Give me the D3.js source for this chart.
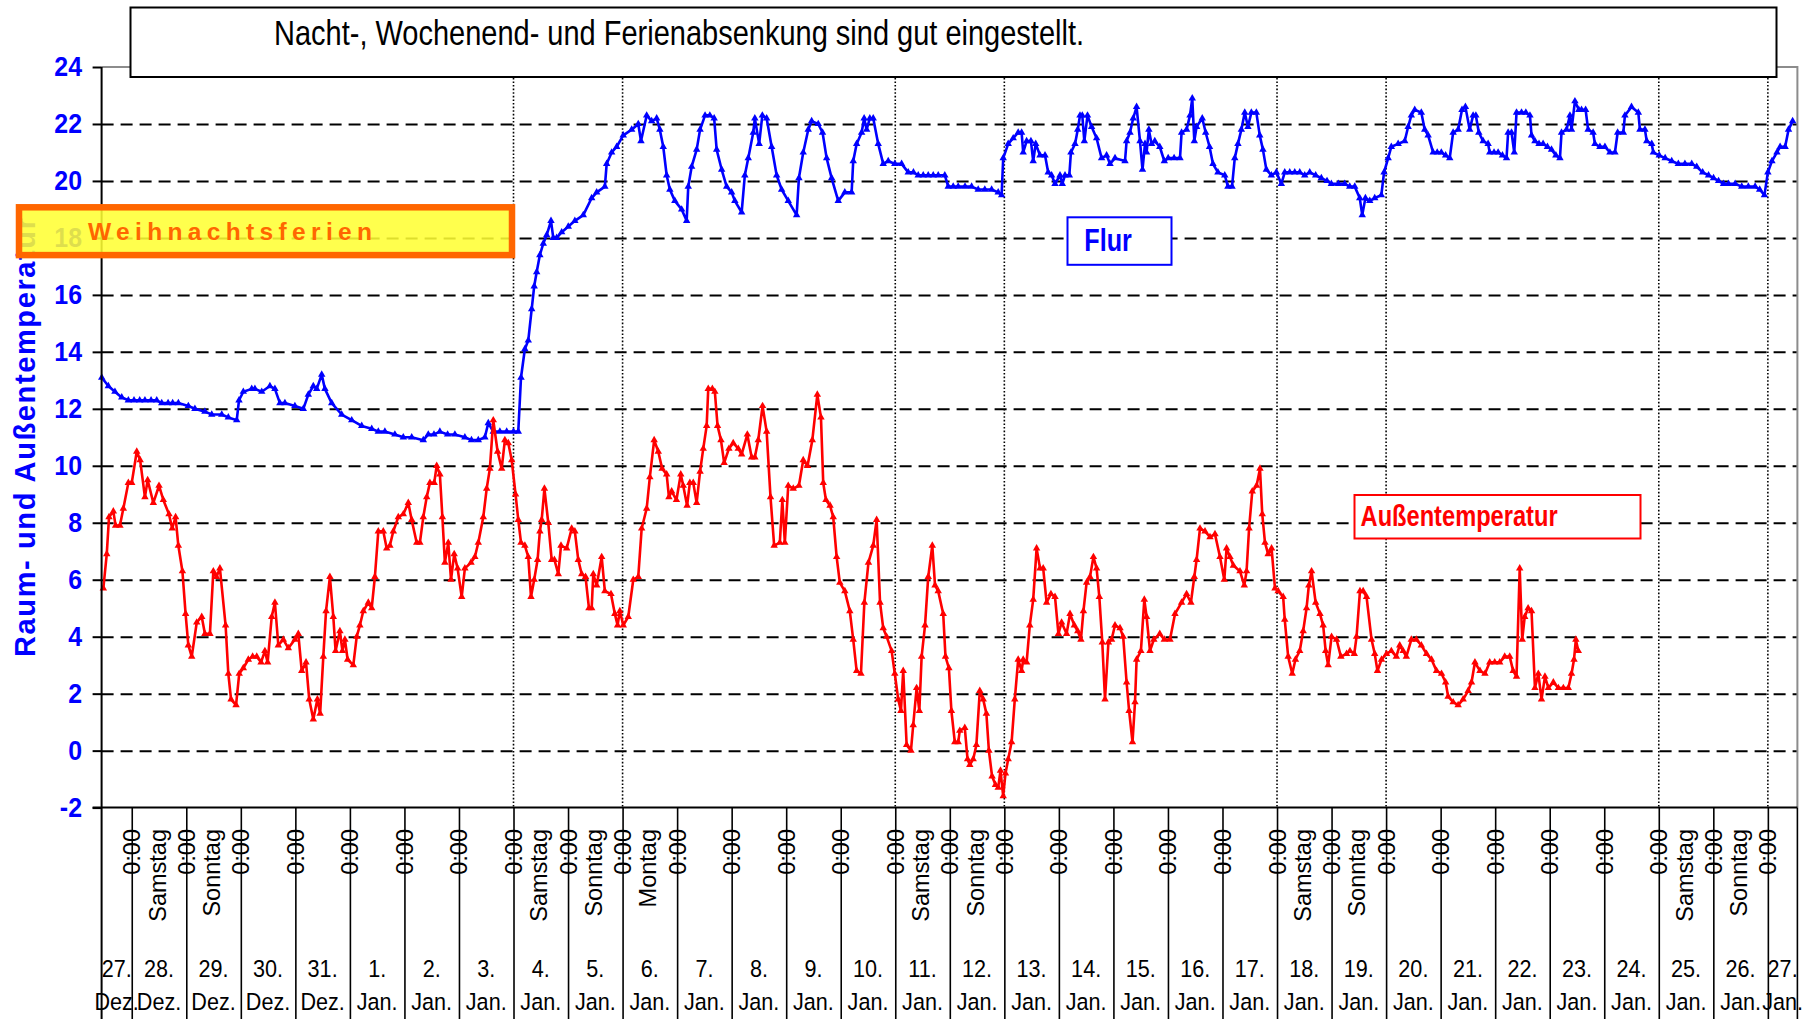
<!DOCTYPE html>
<html>
<head>
<meta charset="utf-8">
<script src="https://cdn.jsdelivr.net/npm/d3@7"></script>
<style>
  body { margin: 0; background: #fff; }
  svg { display: block; font-family: "Liberation Sans", Arial, sans-serif; }
</style>
</head>
<body>
<div class="chart"></div>
<script>
// Messwerte: [Stunden seit 27.12. 0:00, Temperatur °C]
var flur = [
  [10.8,13.1],[13.7,12.8],[16.6,12.6],[19.6,12.4],[22.5,12.3],[25.0,12.3],[27.5,12.3],[29.8,12.3],[32.5,12.3],[35.0,12.3],
  [37.2,12.2],[40.0,12.2],[42.0,12.2],[44.5,12.2],[48.9,12.1],[51.8,12.0],[56.2,11.9],[59.2,11.8],[63.6,11.8],[66.5,11.7],
  [70.2,11.6],[71.2,12.3],[73.1,12.6],[76.8,12.7],[78.2,12.7],[81.2,12.6],[84.8,12.8],[87.0,12.7],[89.2,12.2],[91.4,12.2],
  [95.8,12.1],[99.5,12.0],[101.7,12.5],[103.9,12.8],[105.4,12.7],[107.6,13.2],[109.0,12.7],[112.0,12.2],[116.4,11.8],[120.8,11.6],
  [125.2,11.4],[129.6,11.3],[132.5,11.2],[135.4,11.2],[139.8,11.1],[143.5,11.0],[147.2,11.0],[152.3,10.9],[154.5,11.1],[157.0,11.1],
  [159.6,11.2],[163.0,11.1],[166.2,11.1],[170.6,11.0],[173.5,10.9],[176.5,10.9],[179.4,11.0],[180.9,11.5],[183.1,11.2],[186.0,11.2],
  [189.0,11.2],[192.0,11.2],[194.1,11.2],[195.3,13.1],[197.0,14.1],[198.5,14.4],[200.0,15.5],[201.1,16.3],[202.2,16.8],[203.6,17.4],
  [205.1,17.8],[206.6,18.1],[208.5,18.6],[209.5,18.0],[211.0,18.0],[213.2,18.2],[216.1,18.4],[219.0,18.6],[222.7,18.8],[226.4,19.4],
  [228.6,19.6],[232.2,19.8],[233.0,20.6],[235.2,21.0],[237.4,21.2],[240.3,21.6],[244.0,21.8],[246.9,22.0],[248.1,21.4],[250.6,22.3],
  [252.8,22.1],[255.0,22.2],[256.4,21.8],[257.9,21.2],[259.4,20.2],[260.8,19.7],[263.0,19.3],[266.0,19.0],[268.2,18.6],[268.9,19.8],
  [270.4,20.5],[272.6,21.1],[274.1,21.8],[276.3,22.3],[278.4,22.3],[280.3,22.2],[281.4,21.1],[283.6,20.4],[285.8,19.8],[288.0,19.6],
  [289.4,19.3],[292.4,18.9],[293.8,20.2],[295.3,20.8],[297.5,21.7],[298.2,22.2],[300.1,21.3],[301.5,22.3],[303.4,22.2],[305.6,21.2],
  [307.8,20.2],[310.0,19.7],[312.9,19.3],[316.6,18.8],[317.6,20.1],[319.5,21.0],[321.7,21.8],[323.2,22.1],[326.1,22.0],[328.0,21.7],
  [329.8,20.8],[332.0,20.1],[334.9,19.3],[337.8,19.6],[340.8,19.6],[341.5,20.7],[343.0,21.3],[345.2,21.7],[346.3,22.2],[347.4,21.8],
  [348.8,22.2],[350.3,22.2],[352.5,21.3],[354.7,20.6],[356.9,20.7],[359.8,20.6],[362.8,20.6],[365.7,20.3],[368.0,20.3],[370.1,20.2],
  [372.3,20.2],[374.5,20.2],[376.7,20.2],[378.9,20.2],[381.8,20.2],[383.3,19.8],[385.5,19.8],[387.7,19.8],[390.7,19.8],[393.6,19.8],
  [396.5,19.7],[399.4,19.7],[402.4,19.7],[405.3,19.6],[406.8,19.5],[407.5,20.8],[409.7,21.3],[411.9,21.5],[414.1,21.7],[415.6,21.7],
  [416.3,21.0],[417.8,21.4],[419.7,21.4],[420.7,20.7],[421.8,21.3],[423.7,20.9],[425.9,20.9],[427.3,20.3],[428.8,20.2],[430.3,19.9],
  [432.5,20.2],[433.5,19.9],[434.7,20.2],[436.6,20.2],[437.3,21.0],[439.1,21.3],[440.3,21.8],[441.3,22.3],[442.3,22.3],[443.2,21.4],
  [444.6,22.3],[446.4,21.9],[448.6,21.5],[450.8,20.8],[453.0,20.9],[454.5,20.6],[456.7,20.8],[461.1,20.7],[461.8,21.4],[463.3,21.7],
  [464.7,22.2],[466.2,22.6],[467.7,21.4],[468.8,20.4],[469.9,21.3],[470.6,21.0],[471.6,21.8],[472.8,21.3],[474.2,21.4],[476.4,21.2],
  [478.4,20.7],[480.1,20.8],[482.7,20.8],[485.3,20.8],[486.0,21.7],[488.2,21.8],[489.7,22.3],[490.7,22.9],[491.6,21.4],[492.6,21.9],
  [495.1,22.2],[496.6,21.7],[498.3,21.2],[499.8,20.6],[502.0,20.3],[505.0,20.2],[506.4,19.8],[508.2,19.8],[509.4,20.8],[510.8,21.3],
  [512.3,21.8],[513.8,22.4],[515.2,21.9],[516.7,22.4],[518.9,22.4],[520.4,21.6],[521.8,21.1],[523.3,20.4],[525.5,20.2],[527.7,20.3],
  [529.9,19.9],[531.4,20.3],[533.6,20.3],[535.8,20.3],[538.0,20.3],[540.2,20.2],[542.4,20.3],[545.0,20.2],[547.5,20.1],[550.0,20.0],
  [551.9,19.9],[555.0,19.9],[557.8,19.9],[560.0,19.8],[562.2,19.8],[564.4,19.4],[565.5,18.8],[566.9,19.4],[568.8,19.3],[571.0,19.4],
  [573.9,19.5],[575.1,20.3],[576.9,20.8],[578.3,21.2],[581.3,21.3],[584.2,21.4],[585.7,21.9],[587.1,22.3],[588.6,22.5],[591.5,22.4],
  [593.0,21.8],[594.5,21.6],[596.7,21.0],[598.5,21.0],[600.3,21.0],[602.2,20.9],[604.0,20.8],[605.5,21.7],[607.7,21.8],[609.4,22.5],
  [610.9,22.6],[612.8,21.8],[614.3,22.3],[615.5,22.3],[616.8,21.7],[618.7,21.4],[620.9,21.3],[621.6,21.0],[623.5,21.0],[625.3,21.0],
  [627.2,20.9],[629.0,20.8],[629.7,21.7],[631.2,21.7],[632.4,21.0],[633.4,22.4],[635.6,22.4],[637.5,22.4],[639.3,22.3],[640.0,21.6],
  [641.5,21.4],[643.3,21.3],[645.1,21.3],[647.0,21.2],[648.8,21.1],[650.7,20.9],[652.5,20.8],[653.2,21.7],[655.4,21.8],[656.9,22.3],
  [657.6,21.8],[659.1,22.8],[660.8,22.5],[662.0,22.5],[663.8,22.5],[664.9,21.8],[667.1,21.7],[667.9,21.3],[670.1,21.2],[672.3,21.2],
  [674.5,21.0],[676.7,21.0],[677.9,21.7],[680.4,21.7],[681.1,22.3],[684.0,22.6],[687.0,22.4],[687.7,21.8],[689.9,21.8],[690.7,21.4],
  [692.9,21.3],[693.6,21.0],[696.2,20.9],[698.8,20.8],[701.7,20.7],[704.6,20.6],[707.5,20.6],[710.5,20.6],[712.7,20.5],[715.3,20.3],
  [717.9,20.2],[720.1,20.1],[722.3,20.0],[724.5,19.9],[726.7,19.9],[729.6,19.9],[732.5,19.8],[735.4,19.8],[738.4,19.8],[740.4,19.7],
  [742.5,19.5],[744.0,20.3],[745.8,20.7],[748.0,21.0],[749.4,21.2],[751.6,21.2],[753.1,21.8],[754.9,22.1]
];

var aussen = [
  [11.5,5.7],[13.0,6.9],[14.0,8.2],[15.9,8.4],[16.9,7.9],[18.8,7.9],[20.3,8.5],[22.5,9.4],[24.0,9.4],[26.2,10.5],
  [27.7,10.2],[29.8,8.9],[31.0,9.5],[33.5,8.7],[36.0,9.3],[37.9,8.8],[40.4,8.3],[41.8,7.8],[43.3,8.2],[44.5,7.2],
  [46.3,6.3],[47.7,4.8],[48.9,3.7],[50.4,3.3],[52.6,4.5],[54.8,4.7],[56.2,4.1],[58.4,4.1],[59.9,6.3],[61.3,6.1],
  [62.8,6.4],[65.3,4.4],[66.5,2.7],[67.7,1.8],[69.9,1.6],[71.3,2.7],[73.1,2.9],[75.3,3.2],[77.2,3.3],[79.0,3.3],
  [80.9,3.1],[82.6,3.5],[83.8,3.1],[85.6,4.7],[87.0,5.2],[88.5,3.7],[90.7,3.9],[92.9,3.6],[95.8,3.9],[97.3,4.1],
  [98.8,2.8],[100.7,3.1],[102.1,1.8],[103.9,1.1],[105.7,1.8],[106.9,1.3],[108.3,3.3],[109.5,4.9],[111.2,6.1],[112.7,4.7],
  [113.7,3.5],[115.6,4.2],[116.7,3.5],[117.8,3.9],[119.0,3.2],[121.5,3.0],[123.0,4.0],[124.4,4.4],[125.9,4.9],[128.1,5.2],
  [129.6,5.0],[131.0,6.1],[132.5,7.7],[134.7,7.7],[136.2,7.1],[137.6,7.2],[139.1,7.7],[141.3,8.2],[143.5,8.3],[145.7,8.7],
  [147.2,8.1],[149.4,7.3],[150.8,7.3],[152.3,8.2],[153.8,8.9],[155.2,9.4],[157.1,9.4],[158.2,10.0],[159.6,9.7],[160.7,8.2],
  [161.8,6.6],[163.3,7.3],[164.5,6.0],[165.9,6.9],[167.4,6.4],[169.2,5.4],[170.6,6.4],[173.3,6.6],[175.0,6.8],[176.5,7.3],
  [178.7,8.2],[180.2,9.2],[181.6,9.9],[183.1,11.6],[185.0,10.5],[186.8,9.9],[188.2,10.9],[189.7,10.8],[191.2,10.2],[192.9,9.0],
  [194.1,8.1],[195.3,7.3],[197.0,7.2],[198.5,6.8],[199.7,5.4],[201.1,6.0],[202.6,6.7],[203.6,7.7],[204.4,8.1],[205.6,9.2],
  [207.3,8.0],[208.8,6.7],[210.0,6.7],[211.7,6.2],[212.9,7.2],[215.4,7.1],[217.6,7.8],[219.0,7.7],[220.5,6.7],[222.0,6.2],
  [223.7,6.1],[225.2,5.0],[226.4,5.0],[227.1,6.2],[228.6,5.8],[230.8,6.8],[232.2,5.6],[234.9,5.5],[236.6,4.8],[237.8,4.4],
  [238.8,4.9],[240.3,4.4],[242.5,4.7],[244.7,6.0],[246.9,6.1],[248.4,7.8],[250.6,8.5],[252.0,9.6],[253.9,10.9],[255.7,10.5],
  [257.4,9.9],[259.4,9.7],[260.4,8.9],[261.6,9.1],[263.7,8.8],[265.6,9.7],[266.7,9.3],[268.4,8.6],[269.6,9.4],[271.1,9.4],
  [272.6,8.7],[274.1,9.8],[275.5,10.6],[277.0,11.4],[277.7,12.7],[279.5,12.7],[280.6,12.6],[281.8,11.4],[283.3,10.9],[284.7,10.1],
  [286.8,10.6],[288.7,10.8],[290.9,10.6],[292.4,10.4],[294.9,11.1],[296.8,10.3],[298.2,10.3],[299.7,10.9],[301.6,12.1],[303.4,11.2],
  [305.1,8.9],[306.7,7.2],[309.2,7.3],[310.3,8.8],[311.4,7.3],[312.9,9.3],[315.1,9.2],[317.6,9.3],[319.5,10.2],[321.4,10.0],
  [323.5,10.9],[325.7,12.5],[327.3,11.7],[328.3,9.4],[329.5,8.8],[331.3,8.6],[332.7,8.2],[334.2,6.8],[335.6,5.9],[337.8,5.6],
  [340.0,4.9],[341.5,3.9],[343.0,2.8],[344.9,2.7],[346.4,5.2],[348.2,6.6],[350.3,7.2],[351.8,8.1],[353.3,5.2],[354.7,4.3],
  [356.2,4.0],[358.4,3.5],[359.8,2.7],[361.3,1.8],[362.5,1.4],[363.5,2.8],[365.0,0.2],[366.9,0.0],[367.9,0.9],[369.4,2.2],
  [370.6,1.4],[371.6,3.3],[373.1,4.4],[374.5,6.1],[376.3,7.2],[377.5,5.8],[378.9,5.6],[381.1,4.8],[382.1,3.3],[383.6,2.9],
  [384.7,1.4],[386.2,0.3],[387.7,0.3],[388.4,0.7],[390.6,0.8],[391.8,-0.3],[392.8,-0.5],[394.3,-0.3],[395.7,0.2],[397.2,2.1],
  [398.7,1.8],[400.1,1.3],[401.2,0.0],[402.6,-0.9],[404.1,-1.2],[405.3,-1.3],[406.3,-0.7],[407.5,-1.6],[408.5,-0.8],[409.7,-0.3],
  [411.2,0.3],[412.6,1.8],[414.1,3.2],[415.6,2.8],[416.3,3.2],[417.8,3.1],[419.2,4.4],[420.7,5.3],[422.2,7.1],[423.7,6.4],
  [425.1,6.4],[426.6,5.2],[428.5,5.5],[430.3,5.4],[431.8,4.1],[433.2,4.5],[435.4,4.1],[436.9,4.8],[438.8,4.4],[440.3,4.2],
  [441.7,3.9],[442.8,4.9],[444.2,5.9],[445.7,6.1],[447.2,6.8],[448.6,6.4],[449.8,5.4],[451.1,3.8],[452.3,1.8],[453.8,3.8],
  [455.2,3.9],[456.7,4.4],[458.9,4.3],[460.3,4.0],[461.8,2.4],[462.9,1.4],[464.4,0.3],[465.5,1.7],[466.2,3.2],[468.1,3.5],
  [469.6,5.3],[470.6,4.7],[472.1,3.5],[473.8,3.9],[476.4,4.1],[478.4,3.9],[480.9,3.9],[483.1,4.8],[486.0,5.2],[488.2,5.5],
  [490.1,5.2],[491.6,6.1],[492.6,6.7],[494.1,7.8],[496.3,7.7],[498.5,7.5],[500.7,7.6],[502.9,6.8],[504.8,6.0],[505.8,7.1],
  [507.3,6.8],[508.8,6.5],[511.7,6.3],[513.6,5.8],[514.6,6.3],[515.7,7.8],[517.1,9.1],[519.0,9.3],[520.5,9.9],[521.5,8.3],
  [522.7,7.3],[524.1,6.9],[525.6,7.1],[527.1,5.7],[528.5,5.6],[530.7,5.4],[531.4,4.6],[532.9,3.3],[534.7,2.7],[536.1,3.2],
  [538.0,3.5],[539.5,4.2],[541.0,5.0],[542.0,5.8],[543.2,6.3],[545.0,5.2],[546.9,4.8],[548.3,4.4],[549.4,3.5],[550.5,3.0],
  [552.0,4.0],[554.2,3.9],[556.1,3.3],[558.6,3.4],[560.1,3.5],[562.0,3.4],[563.0,4.0],[564.5,5.6],[565.9,5.6],[567.4,5.4],
  [569.6,3.9],[571.0,3.4],[572.2,2.8],[574.0,3.2],[576.2,3.4],[578.3,3.5],[580.5,3.3],[582.0,3.7],[583.5,3.5],[584.9,3.3],
  [587.1,3.9],[589.3,3.9],[591.5,3.7],[593.8,3.4],[596.0,3.2],[598.2,2.8],[600.4,2.7],[602.2,2.4],[603.3,1.9],[605.5,1.7],
  [607.7,1.6],[609.9,1.8],[612.1,2.1],[613.6,2.4],[615.1,3.1],[617.3,2.8],[619.5,2.7],[621.6,3.1],[623.8,3.1],[626.0,3.1],
  [628.2,3.3],[630.4,3.3],[631.9,2.8],[633.4,2.6],[634.8,6.4],[635.9,3.9],[637.0,4.7],[638.5,5.0],[640.0,4.9],[641.5,2.2],
  [643.0,2.7],[644.4,1.8],[645.9,2.6],[647.4,2.2],[649.6,2.4],[651.8,2.2],[654.0,2.2],[656.2,2.2],[657.6,2.7],[658.7,3.2],
  [659.5,3.9],[660.6,3.5]
];

// Achsenbeschriftung
var yTicks = [-2, 0, 2, 4, 6, 8, 10, 12, 14, 16, 18, 20, 22, 24];
var gridValues = [0, 2, 4, 6, 8, 10, 12, 14, 16, 18, 20, 22];
var dayNums = ["27.","28.","29.","30.","31.","1.","2.","3.","4.","5.","6.","7.","8.","9.","10.","11.",
  "12.","13.","14.","15.","16.","17.","18.","19.","20.","21.","22.","23.","24.","25.","26.","27."];
var monthNames = ["Dez.","Dez.","Dez.","Dez.","Dez.","Jan.","Jan.","Jan.","Jan.","Jan.","Jan.","Jan.","Jan.","Jan.","Jan.","Jan.",
  "Jan.","Jan.","Jan.","Jan.","Jan.","Jan.","Jan.","Jan.","Jan.","Jan.","Jan.","Jan.","Jan.","Jan.","Jan.","Jan."];
var weekdays = ["","Samstag","Sonntag","","","","","","Samstag","Sonntag","Montag","","","","","Samstag",
  "Sonntag","","","","","","Samstag","Sonntag","","","","","","Samstag","Sonntag",""];
var weekLines = ["04.01.2014","06.01.2014","11.01.2014","13.01.2014","18.01.2014","20.01.2014","25.01.2014","27.01.2014"];

var svgWidth = 1811;
var svgHeight = 1019;

var plot = { left: 101.6, right: 1797.4, top: 67, bottom: 807.6 };

var svg = d3.select(".chart")
  .append("svg")
  .attr("width", svgWidth)
  .attr("height", svgHeight);

var base = new Date(2013, 11, 27);
var parseDay = d3.timeParse("%d.%m.%Y");
function hoursToDate(h) {
  return new Date(base.getTime() + h * 3600000);
}

var xScale = d3.scaleTime()
  .domain([new Date(2013, 11, 27, 10, 44), new Date(2014, 0, 27, 13, 0)])
  .range([plot.left, plot.right]);

var yScale = d3.scaleLinear()
  .domain([-2, 24])
  .range([plot.bottom, plot.top]);

// horizontal dashed gridlines
var grid = svg.append("g")
  .attr("transform", `translate(${plot.left}, 0)`)
  .call(d3.axisLeft(yScale)
    .tickValues(gridValues)
    .tickSize(-(plot.right - plot.left))
    .tickFormat(""));
grid.select(".domain").remove();
grid.selectAll("line")
  .attr("stroke", "#000")
  .attr("stroke-width", 2)
  .attr("stroke-dasharray", "12,7");

// dotted week separators
svg.append("g").selectAll("line")
  .data(weekLines.map(parseDay))
  .enter()
  .append("line")
  .attr("x1", d => xScale(d))
  .attr("x2", d => xScale(d))
  .attr("y1", plot.top)
  .attr("y2", plot.bottom)
  .attr("stroke", "#000")
  .attr("stroke-width", 1.6)
  .attr("stroke-dasharray", "1.6,2");

// series
function drawSeries(data, color) {
  var line = d3.line()
    .x(d => xScale(hoursToDate(d[0])))
    .y(d => yScale(d[1]));

  svg.append("path")
    .datum(data)
    .attr("d", line)
    .attr("fill", "none")
    .attr("stroke", color)
    .attr("stroke-width", 2.6)
    .attr("stroke-linejoin", "round");

  svg.append("g").selectAll("path")
    .data(data)
    .enter()
    .append("path")
    .attr("d", d3.symbol().type(d3.symbolTriangle).size(24))
    .attr("transform", d => `translate(${xScale(hoursToDate(d[0]))}, ${yScale(d[1])})`)
    .attr("fill", color);
}
drawSeries(flur, "#0000ff");
drawSeries(aussen, "#ff0000");

// plot area border (grey, top and right)
svg.append("path")
  .attr("d", `M${plot.left},${plot.top}H${plot.right}V${plot.bottom}`)
  .attr("fill", "none")
  .attr("stroke", "#8c8c8c")
  .attr("stroke-width", 2);

// y axis
var yAxis = svg.append("g")
  .attr("transform", `translate(${plot.left}, 0)`)
  .call(d3.axisLeft(yScale)
    .tickValues(yTicks)
    .tickSize(9)
    .tickPadding(13)
    .tickFormat(d => String(d)));
yAxis.select(".domain").remove();
yAxis.selectAll("line").attr("stroke", "#000").attr("stroke-width", 2);
yAxis.selectAll("text")
  .attr("fill", "#0000ff")
  .attr("font-size", 28)
  .attr("font-weight", "bold")
  .attr("font-family", "'Liberation Sans', Arial, sans-serif")
  .attr("transform", "scale(0.89,1)");

svg.append("line")
  .attr("x1", plot.left).attr("x2", plot.left)
  .attr("y1", plot.top).attr("y2", svgHeight)
  .attr("stroke", "#000")
  .attr("stroke-width", 2);

// x axis with day ticks reaching down through the label area
var dayTicks = d3.timeDay.range(new Date(2013, 11, 28), new Date(2014, 0, 28));
var xAxis = svg.append("g")
  .attr("transform", `translate(0, ${plot.bottom})`)
  .call(d3.axisBottom(xScale)
    .tickValues(dayTicks)
    .tickSize(svgHeight - plot.bottom)
    .tickSizeOuter(0)
    .tickFormat(""));
xAxis.select(".domain").attr("stroke", "#000").attr("stroke-width", 2)
  .attr("d", `M${plot.left - 9},0H${plot.right}`);
xAxis.selectAll(".tick line").attr("stroke", "#000").attr("stroke-width", 1.6);

svg.append("line")
  .attr("x1", plot.right).attr("x2", plot.right)
  .attr("y1", plot.bottom).attr("y2", svgHeight)
  .attr("stroke", "#000")
  .attr("stroke-width", 1.6);

// rotated "0:00" labels on every tick
var labels = svg.append("g")
  .attr("font-size", 23.5)
  .attr("fill", "#000");

labels.selectAll(".zero")
  .data(dayTicks)
  .enter()
  .append("text")
  .attr("class", "zero")
  .attr("text-anchor", "end")
  .attr("transform", d => `translate(${xScale(d) + 8.5}, 829) rotate(-90)`)
  .text("0:00");

// day, month and weekday labels
var domain = xScale.domain();
dayNums.forEach(function(num, i) {
  var start = d3.timeDay.offset(base, i);
  var end = d3.timeDay.offset(base, i + 1);
  var lo = xScale(start < domain[0] ? domain[0] : start);
  var hi = xScale(end > domain[1] ? domain[1] : end);
  var cx = (lo + hi) / 2;

  labels.append("text")
    .attr("text-anchor", "middle")
    .attr("font-size", 23.5)
    .attr("transform", `translate(${cx}, 977) scale(0.92,1)`)
    .text(num);

  labels.append("text")
    .attr("text-anchor", "middle")
    .attr("font-size", 23.5)
    .attr("transform", `translate(${cx}, 1010) scale(0.92,1)`)
    .text(monthNames[i]);

  if (weekdays[i] !== "") {
    var noon = xScale(d3.timeHour.offset(start, 12));
    labels.append("text")
      .attr("text-anchor", "end")
      .attr("transform", `translate(${noon + 6.5}, 829) rotate(-90)`)
      .text(weekdays[i]);
  }
});

// y axis title
svg.append("text")
  .attr("transform", `translate(35, 437.5) rotate(-90)`)
  .attr("text-anchor", "middle")
  .attr("font-size", 29)
  .attr("font-weight", "bold")
  .attr("fill", "#0000ff")
  .attr("textLength", 439)
  .attr("lengthAdjust", "spacing")
  .text("Raum- und Außentemperatur");

// title box
svg.append("rect")
  .attr("x", 130.5).attr("y", 7.5)
  .attr("width", 1646).attr("height", 69.5)
  .attr("fill", "#fff")
  .attr("stroke", "#000")
  .attr("stroke-width", 2);

svg.append("text")
  .attr("x", 274)
  .attr("y", 45)
  .attr("font-size", 35)
  .attr("textLength", 810)
  .attr("lengthAdjust", "spacingAndGlyphs")
  .text("Nacht-, Wochenend- und Ferienabsenkung sind gut eingestellt.");

// holiday note
svg.append("rect")
  .attr("x", 19).attr("y", 207.3)
  .attr("width", 493).attr("height", 47.8)
  .attr("fill", "#ffff33")
  .attr("fill-opacity", 0.87)
  .attr("stroke", "#ff6600")
  .attr("stroke-width", 6.5);

svg.append("text")
  .attr("x", 88)
  .attr("y", 239.5)
  .attr("font-size", 24.5)
  .attr("font-weight", "bold")
  .attr("fill", "#ff6600")
  .attr("textLength", 284)
  .attr("lengthAdjust", "spacing")
  .text("Weihnachtsferien");

// series labels
svg.append("rect")
  .attr("x", 1067.5).attr("y", 217.3)
  .attr("width", 104).attr("height", 47.5)
  .attr("fill", "#fff")
  .attr("stroke", "#0000ff")
  .attr("stroke-width", 2);

svg.append("text")
  .attr("x", 1084.3)
  .attr("y", 250.7)
  .attr("font-size", 32)
  .attr("font-weight", "bold")
  .attr("fill", "#0000ff")
  .attr("textLength", 47.5)
  .attr("lengthAdjust", "spacingAndGlyphs")
  .text("Flur");

svg.append("rect")
  .attr("x", 1354.5).attr("y", 495)
  .attr("width", 286).attr("height", 43.5)
  .attr("fill", "#fff")
  .attr("stroke", "#ff0000")
  .attr("stroke-width", 2);

svg.append("text")
  .attr("x", 1360.6)
  .attr("y", 526)
  .attr("font-size", 29)
  .attr("font-weight", "bold")
  .attr("fill", "#ff0000")
  .attr("textLength", 197)
  .attr("lengthAdjust", "spacingAndGlyphs")
  .text("Außentemperatur");
</script>
</body>
</html>
